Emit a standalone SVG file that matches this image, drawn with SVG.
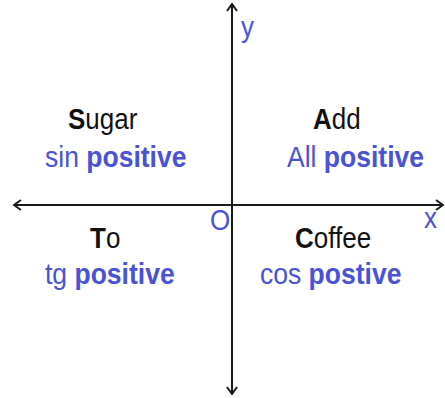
<svg xmlns="http://www.w3.org/2000/svg" width="445" height="398" viewBox="0 0 445 398">
<style>
.ax{stroke:#1a1a1a;stroke-width:2;fill:none}
.t{font-family:"Liberation Sans",Arial,sans-serif;font-size:26px}
.k{fill:#111}
.b{fill:#4a52d6}
.bold{font-weight:bold}
</style>
<defs>
<marker id="ch" viewBox="0 0 10 12" refX="9" refY="6" markerWidth="10" markerHeight="12" markerUnits="userSpaceOnUse" orient="auto-start-reverse">
<path d="M2,1 L9,6 L2,11" fill="none" stroke="#1a1a1a" stroke-width="2"/>
</marker>
</defs>
<rect width="445" height="398" fill="#fff"/>
<g id="connectors">
<line class="ax" x1="14" y1="205" x2="443" y2="205" marker-start="url(#ch)" marker-end="url(#ch)"/>
<line class="ax" x1="232" y1="4" x2="232" y2="394" marker-start="url(#ch)" marker-end="url(#ch)"/>
</g>
<g id="label-y"><text class="t b" transform="matrix(1,0,0,1.12,241,37)">y</text></g>
<g id="label-x"><text class="t b" transform="matrix(1,0,0,1.12,424,228)">x</text></g>
<g id="label-o"><text class="t b" transform="matrix(1,0,0,1.12,210,230)">O</text></g>
<g id="q2">
<text class="t k" transform="matrix(1,0,0,1.12,68,129)"><tspan class="bold">S</tspan>ugar</text>
<text class="t b" transform="matrix(1.02,0,0,1.15,45,167)">sin <tspan class="bold">positive</tspan></text>
</g>
<g id="q1">
<text class="t k" transform="matrix(1,0,0,1.12,313,129)"><tspan class="bold">A</tspan>dd</text>
<text class="t b" transform="matrix(1.02,0,0,1.15,287,167)">All <tspan class="bold">positive</tspan></text>
</g>
<g id="q3">
<text class="t k" transform="matrix(1,0,0,1.12,90,248)"><tspan class="bold">T</tspan>o</text>
<text class="t b" transform="matrix(1.02,0,0,1.15,45,284)">tg <tspan class="bold">positive</tspan></text>
</g>
<g id="q4">
<text class="t k" transform="matrix(1,0,0,1.12,295,248)"><tspan class="bold">C</tspan>offee</text>
<text class="t b" transform="matrix(1.02,0,0,1.15,260,284)">cos <tspan class="bold">postive</tspan></text>
</g>
</svg>
